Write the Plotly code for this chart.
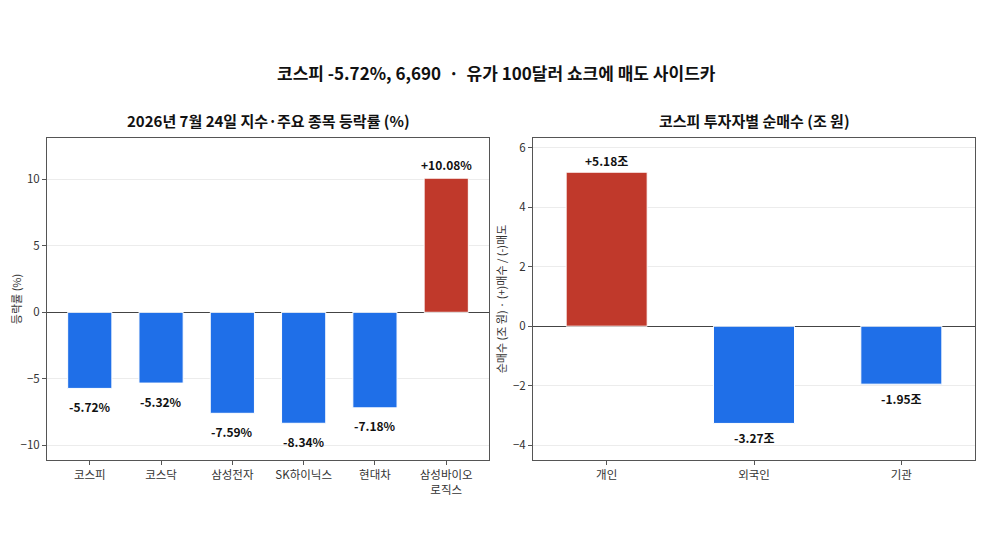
import plotly.graph_objects as go
from plotly.subplots import make_subplots

# ---- data ----
STOCKS = ['코스피', '코스닥', '삼성전자', 'SK하이닉스', '현대차', '삼성바이오<br>로직스']
STOCK_CHANGE = [-5.72, -5.32, -7.59, -8.34, -7.18, 10.08]

INVESTORS = ['개인', '외국인', '기관']
NET_BUY = [5.18, -3.27, -1.95]

RED = '#c0392b'
BLUE = '#1f6fe8'
FONT = 'Noto Sans CJK KR'

# page offset of the figure (body margin) and plot area in screen pixels
OFF = 8
L, R, T, B = 47 - OFF, 975 - OFF, 138 - OFF, 460 - OFF
W, H = 992, 542


def colors(vals):
    return [RED if v >= 0 else BLUE for v in vals]


def px_x(x):
    return (x - OFF - L) / (R - L)


def px_y(y):
    return (B - (y - OFF)) / (B - T)


fig = make_subplots(rows=1, cols=2)

fig.add_bar(x=STOCKS, y=STOCK_CHANGE, marker=dict(color=colors(STOCK_CHANGE), line=dict(color='white', width=1)),
            width=0.62, row=1, col=1, showlegend=False, hoverinfo='skip')
fig.add_bar(x=INVESTORS, y=NET_BUY, marker=dict(color=colors(NET_BUY), line=dict(color='white', width=1)),
            width=0.55, row=1, col=2, showlegend=False, hoverinfo='skip')

# value labels
for x, v in zip(STOCKS, STOCK_CHANGE):
    fig.add_annotation(x=x, y=v, xref='x', yref='y', text=f'<b>{v:+.2f}%</b>', showarrow=False,
                       yshift=14 if v >= 0 else -18, font=dict(size=12, color='#111'))
for x, v in zip(INVESTORS, NET_BUY):
    fig.add_annotation(x=x, y=v, xref='x2', yref='y2', text=f'<b>{v:+.2f}조</b>', showarrow=False,
                       yshift=12 if v >= 0 else -14, font=dict(size=12, color='#111'))

# titles
fig.add_annotation(x=px_x(496), y=px_y(73), xref='paper', yref='paper', xanchor='center', yanchor='middle',
                   text='<b>코스피 -5.72%, 6,690  ·  유가 100달러 쇼크에 매도 사이드카</b>',
                   showarrow=False, font=dict(size=17, color='#111'))
fig.add_annotation(x=px_x(268), y=px_y(121), xref='paper', yref='paper', xanchor='center', yanchor='middle',
                   text='<b>2026년 7월 24일 지수·주요 종목 등락률 (%)</b>',
                   showarrow=False, font=dict(size=15, color='#111'))
fig.add_annotation(x=px_x(754), y=px_y(121), xref='paper', yref='paper', xanchor='center', yanchor='middle',
                   text='<b>코스피 투자자별 순매수 (조 원)</b>',
                   showarrow=False, font=dict(size=15, color='#111'))

axis_common = dict(
    showline=True, linecolor='#555', linewidth=1, mirror=True,
    ticks='outside', ticklen=4, tickcolor='#555',
    tickfont=dict(size=11.5, color='#333'),
)

fig.update_xaxes(**axis_common, showgrid=False)
fig.update_yaxes(**axis_common, showgrid=True, gridcolor='#ececec', gridwidth=1,
                 zeroline=True, zerolinecolor='#444', zerolinewidth=1)

fig.update_layout(
    width=W, height=H,
    paper_bgcolor='white', plot_bgcolor='white',
    font=dict(family=FONT, color='#222'),
    margin=dict(l=L, r=W - R, t=T, b=H - B, autoexpand=False),
    xaxis=dict(domain=[0, px_x(489)], range=[-0.6, 5.6]),
    xaxis2=dict(domain=[px_x(533), 1], range=[-0.5, 2.5]),
    yaxis=dict(domain=[0, 1], range=[-11.1, 13.1], tickvals=[-10, -5, 0, 5, 10],
               title=dict(text='등락률 (%)', font=dict(size=11, color='#333'), standoff=4)),
    yaxis2=dict(domain=[0, 1], range=[-4.5, 6.33], tickvals=[-4, -2, 0, 2, 4, 6],
                title=dict(text='순매수 (조 원) · (+)매수 / (-)매도', font=dict(size=11, color='#333'), standoff=4)),
)

fig.write_html('out.html')
